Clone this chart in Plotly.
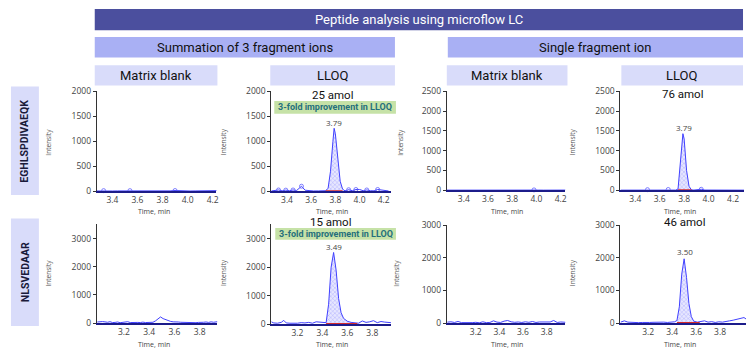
import plotly.graph_objects as go

W, H = 750, 364
def px(x): return x / W
def py(y): return 1 - y / H

COND = "Roboto, Open Sans, sans-serif"
REG = "Roboto, Open Sans, sans-serif"
TICK = "Open Sans, DejaVu Sans, sans-serif"

# ---------------- data ----------------
# Row 1: EGHLSPDIVAEQK
r1_blank_sum_t = [3.27,3.30,3.33,3.36,3.40,3.44,3.48,3.51,3.54,3.58,3.62,3.66,3.70,3.74,3.78,3.82,3.86,3.90,3.94,3.98,4.02,4.06,4.10,4.14,4.18,4.21,4.24]
r1_blank_sum_y = [5,8,12,6,4,6,5,8,12,5,4,6,5,4,6,5,7,14,6,5,4,6,5,4,5,8,12]
r1_blank_sum_m = [3.33,3.54,3.90,4.24]

r1_lloq_sum_t = [3.27,3.30,3.33,3.36,3.39,3.42,3.45,3.48,3.50,3.52,3.55,3.58,3.62,3.66,3.70,3.72,3.74,3.76,3.78,3.79,3.80,3.82,3.84,3.86,3.88,3.91,3.94,3.97,4.00,4.03,4.06,4.09,4.12,4.15,4.18,4.21,4.24]
r1_lloq_sum_y = [5,10,25,8,22,10,25,15,60,100,20,8,5,6,8,10,60,400,1000,1260,1150,600,200,40,8,30,10,35,35,10,25,10,8,35,30,10,5]
r1_lloq_sum_m = [3.33,3.39,3.45,3.52,3.91,3.97,4.06,4.15]
r1_lloq_sum_peak = [3.72, 3.86]

r1_blank_one_t = [3.26,3.30,3.34,3.38,3.42,3.46,3.50,3.54,3.58,3.62,3.66,3.70,3.74,3.78,3.82,3.86,3.90,3.94,3.98,4.02,4.06,4.10,4.14,4.18,4.22,4.24]
r1_blank_one_y = [3,4,3,5,4,3,4,5,3,4,3,4,3,4,5,3,4,5,9,4,3,4,3,4,3,4]
r1_blank_one_m = [3.98]

r1_lloq_one_t = [3.28,3.32,3.36,3.40,3.44,3.48,3.50,3.52,3.56,3.60,3.64,3.67,3.70,3.73,3.75,3.77,3.79,3.80,3.82,3.84,3.86,3.88,3.91,3.94,3.97,4.00,4.05,4.10,4.15,4.20,4.25,4.29]
r1_lloq_one_y = [3,4,3,5,4,6,15,5,4,3,5,20,5,4,30,700,1430,1300,500,100,10,5,6,25,5,4,3,5,4,3,4,3]
r1_lloq_one_m = [3.50,3.67,3.94]
r1_lloq_one_peak = [3.75, 3.86]

# Row 2: NLSVEDAAR
r2_blank_sum_t = [2.99,3.01,3.03,3.05,3.07,3.09,3.11,3.13,3.15,3.17,3.19,3.21,3.23,3.25,3.27,3.29,3.31,3.33,3.35,3.37,3.39,3.41,3.43,3.45,3.47,3.49,3.51,3.53,3.55,3.57,3.59,3.61,3.63,3.65,3.67,3.69,3.71,3.73,3.75,3.77,3.79,3.81,3.83,3.85,3.87,3.89,3.91,3.94]
r2_blank_sum_y = [40,60,55,45,30,50,20,25,40,15,20,35,50,20,30,15,25,20,35,20,15,25,30,80,150,220,160,120,90,60,45,50,40,30,25,35,20,30,25,15,25,20,30,40,25,45,30,50]

r2_lloq_sum_t = [2.99,3.01,3.04,3.07,3.09,3.11,3.14,3.17,3.20,3.23,3.26,3.29,3.32,3.35,3.38,3.41,3.43,3.45,3.47,3.49,3.51,3.53,3.55,3.57,3.60,3.63,3.66,3.69,3.72,3.75,3.78,3.81,3.84,3.87,3.90,3.93,3.95]
r2_lloq_sum_y = [80,40,30,60,130,40,30,20,30,50,40,60,30,80,60,40,50,700,2000,2520,1900,900,400,200,100,60,40,30,110,60,80,120,50,90,70,60,50]
r2_lloq_sum_peak = [3.43, 3.68]

r2_blank_one_t = [2.96,2.99,3.02,3.05,3.08,3.11,3.14,3.17,3.20,3.23,3.26,3.29,3.32,3.35,3.38,3.41,3.44,3.47,3.50,3.53,3.56,3.59,3.62,3.65,3.68,3.71,3.74,3.77,3.80,3.83,3.86,3.89,3.92,3.96]
r2_blank_one_y = [30,40,20,50,15,10,20,15,25,10,40,15,20,70,30,20,60,80,40,25,35,20,40,25,50,20,35,30,20,35,80,20,35,25]

r2_lloq_one_t = [2.97,3.00,3.03,3.06,3.09,3.12,3.15,3.18,3.21,3.24,3.27,3.30,3.33,3.36,3.39,3.42,3.44,3.46,3.48,3.50,3.52,3.54,3.56,3.58,3.61,3.64,3.67,3.70,3.73,3.76,3.79,3.82,3.85,3.88,3.91,3.94,3.97,4.00,4.02]
r2_lloq_one_y = [30,70,30,20,25,15,20,10,20,25,30,45,30,20,35,40,80,500,1500,1970,1400,600,200,60,30,40,70,30,45,20,40,30,40,70,90,110,140,170,120]
r2_lloq_one_peak = [3.44, 3.63]

row_labels = ["EGHLSPDIVAEQK", "NLSVEDAAR"]
group_labels = ["Summation of 3 fragment ions", "Single fragment ion"]
col_labels = ["Matrix blank", "LLOQ", "Matrix blank", "LLOQ"]
amounts = ["25 amol", "76 amol", "15 amol", "46 amol"]
peak_rt = ["3.79", "3.79", "3.49", "3.50"]
improvement = "3-fold improvement in LLOQ"

r1_xticks = [3.4, 3.6, 3.8, 4.0, 4.2]
r2_xticks = [3.2, 3.4, 3.6, 3.8]
yt_2000 = [0, 500, 1000, 1500, 2000]
yt_2500 = [0, 500, 1000, 1500, 2000, 2500]
yt_3000 = [0, 1000, 2000, 3000]

# ---------------- panel layout ----------------
panels = [
    dict(t=r1_blank_sum_t, y=r1_blank_sum_y, m=r1_blank_sum_m, peak=None, xd=(97,217), yd=(88,191), xr=(3.275,4.23), yr=(0,2000), xt=r1_xticks, yt=yt_2000),
    dict(t=r1_lloq_sum_t, y=r1_lloq_sum_y, m=r1_lloq_sum_m, peak=r1_lloq_sum_peak, xd=(272,392), yd=(88,191), xr=(3.27,4.26), yr=(0,2000), xt=r1_xticks, yt=yt_2000),
    dict(t=r1_blank_one_t, y=r1_blank_one_y, m=r1_blank_one_m, peak=None, xd=(448,567), yd=(88,190), xr=(3.26,4.24), yr=(0,2500), xt=r1_xticks, yt=yt_2500),
    dict(t=r1_lloq_one_t, y=r1_lloq_one_y, m=r1_lloq_one_m, peak=r1_lloq_one_peak, xd=(622,746), yd=(88,190), xr=(3.278,4.29), yr=(0,2500), xt=r1_xticks, yt=yt_2500),
    dict(t=r2_blank_sum_t, y=r2_blank_sum_y, m=[], peak=None, xd=(97,218), yd=(225,327), xr=(2.985,3.94), yr=(0,3515), xt=r2_xticks, yt=yt_3000),
    dict(t=r2_lloq_sum_t, y=r2_lloq_sum_y, m=[], peak=r2_lloq_sum_peak, xd=(272,392), yd=(225,328), xr=(2.99,3.95), yr=(0,3515), xt=r2_xticks, yt=yt_3000),
    dict(t=r2_blank_one_t, y=r2_blank_one_y, m=[], peak=None, xd=(448,567), yd=(226,327), xr=(2.955,3.96), yr=(0,3000), xt=r2_xticks, yt=yt_3000),
    dict(t=r2_lloq_one_t, y=r2_lloq_one_y, m=[], peak=r2_lloq_one_peak, xd=(622,748), yd=(226,327), xr=(2.967,4.017), yr=(0,3000), xt=r2_xticks, yt=yt_3000),
]

LINE = "#4040ff"
fig = go.Figure()
layout = {}
for i, p in enumerate(panels):
    s = "" if i == 0 else str(i + 1)
    xa, ya = "x" + s, "y" + s
    if p["peak"]:
        a, b = p["peak"]
        pt = [t for t in p["t"] if a <= t <= b]
        pv = [v for t, v in zip(p["t"], p["y"]) if a <= t <= b]
        fig.add_trace(go.Scatter(x=pt, y=pv, mode="lines", fill="tozeroy",
                                 fillcolor="rgba(190,190,255,0.45)",
                                 fillpattern=dict(shape="x", fgcolor="#5a5aff", bgcolor="rgba(215,215,255,0.6)", size=3, solidity=0.25),
                                 line=dict(width=0), xaxis=xa, yaxis=ya, hoverinfo="skip", showlegend=False))
    fig.add_trace(go.Scatter(x=p["t"], y=p["y"], mode="lines", line=dict(color=LINE, width=1),
                             xaxis=xa, yaxis=ya, hoverinfo="skip", showlegend=False))
    if p["peak"]:
        a, b = p["peak"]
        fig.add_trace(go.Scatter(x=[a, b], y=[0, 0], mode="lines", line=dict(color="#d42a2a", width=2.2),
                                 xaxis=xa, yaxis=ya, hoverinfo="skip", showlegend=False, cliponaxis=False))
    if p["m"]:
        mv = [p["y"][p["t"].index(t)] for t in p["m"]]
        fig.add_trace(go.Scatter(x=p["m"], y=mv, mode="markers",
                                 marker=dict(symbol="circle-open", size=4, color="#6060ff", line=dict(width=0.8)),
                                 xaxis=xa, yaxis=ya, hoverinfo="skip", showlegend=False, cliponaxis=False))
    layout["xaxis" + s] = dict(domain=[px(p["xd"][0]), px(p["xd"][1])], range=list(p["xr"]), anchor=ya,
                               showline=True, linecolor="#1c1c8a", linewidth=1.5, ticks="",
                               tickvals=p["xt"], tickformat=".1f", tickfont=dict(family=TICK, size=8.5, color="#444"),
                               showgrid=False, zeroline=False, fixedrange=True)
    layout["yaxis" + s] = dict(domain=[py(p["yd"][1]), py(p["yd"][0])], range=list(p["yr"]), anchor=xa,
                               showline=True, linecolor="#333", linewidth=1, ticks="outside", ticklen=3,
                               tickcolor="#333", tickvals=p["yt"], tickformat="d",
                               tickfont=dict(family=TICK, size=8.5, color="#444"),
                               showgrid=False, zeroline=False, fixedrange=True)

shapes = []
ann = []
def box(x0, y0, x1, y1, color):
    shapes.append(dict(type="rect", xref="paper", yref="paper", x0=px(x0), x1=px(x1), y0=py(y1), y1=py(y0),
                       fillcolor=color, line=dict(width=0), layer="below"))
def text(x, y, t, size, color="#111", family=COND, angle=0, bold=False):
    ann.append(dict(x=px(x), y=py(y), xref="paper", yref="paper", text=("<b>%s</b>" % t) if bold else t,
                    showarrow=False, font=dict(family=family, size=size, color=color), textangle=angle,
                    xanchor="center", yanchor="middle"))

DARK, MID, LIGHT = "#4b4f9e", "#a9b0f4", "#d9dcfa"
box(95, 3, 745, 25, DARK)
text(420, 14, "Peptide analysis using microflow LC", 13, "white")
box(95, 32, 396, 53, MID); text(245.5, 42.5, group_labels[0], 13)
box(449, 32, 745, 53, MID); text(597, 42.5, group_labels[1], 13)
col_boxes = [(95, 218), (271, 396), (448, 569), (623, 745)]
for (a, b), lab in zip(col_boxes, col_labels):
    box(a, 61, b, 82, LIGHT); text((a + b) / 2, 71.5, lab, 13)
box(11, 83, 39, 195, LIGHT); text(25, 139, row_labels[0], 10.5, "#1a1a3a", angle=-90, bold=True)
box(11, 219, 39, 330, LIGHT); text(25, 274.5, row_labels[1], 10.5, "#1a1a3a", angle=-90, bold=True)

GREEN = "#c6e2a7"
box(275, 98, 397, 111, GREEN); text(336, 104.5, improvement, 9, "#25707c", bold=True)
box(276, 229, 397, 241, GREEN); text(336.5, 235, improvement, 9, "#25707c", bold=True)

text(333, 92, amounts[0], 11.5, "#111", REG)
text(684, 91, amounts[1], 11.5, "#111", REG)
text(331, 223, amounts[2], 11.5, "#111", REG)
text(686, 223, amounts[3], 11.5, "#111", REG)

text(335, 120, peak_rt[0], 8, "#444", TICK)
text(685.5, 125.5, peak_rt[1], 8, "#444", TICK)
text(335, 248, peak_rt[2], 8, "#444", TICK)
text(687, 253, peak_rt[3], 8, "#444", TICK)

for x in [49, 224, 402, 574]:
    text(x, 140, "Intensity", 6.5, "#555", TICK, angle=-90)
for x in [49, 224, 398, 574]:
    text(x, 275, "Intensity", 6.5, "#555", TICK, angle=-90)
for x in [154, 333, 508, 682]:
    text(x, 212, "Time, min", 7, "#444", TICK)
    text(x, 349, "Time, min", 7, "#444", TICK)

fig.update_layout(width=W, height=H, margin=dict(l=0, r=0, t=0, b=0), paper_bgcolor="white",
                  plot_bgcolor="rgba(0,0,0,0)", shapes=shapes, annotations=ann, showlegend=False, **layout)
fig.write_html("out.html", config={"displayModeBar": False, "staticPlot": True},
               post_script="document.body.style.margin='0';document.body.style.padding='0';")
